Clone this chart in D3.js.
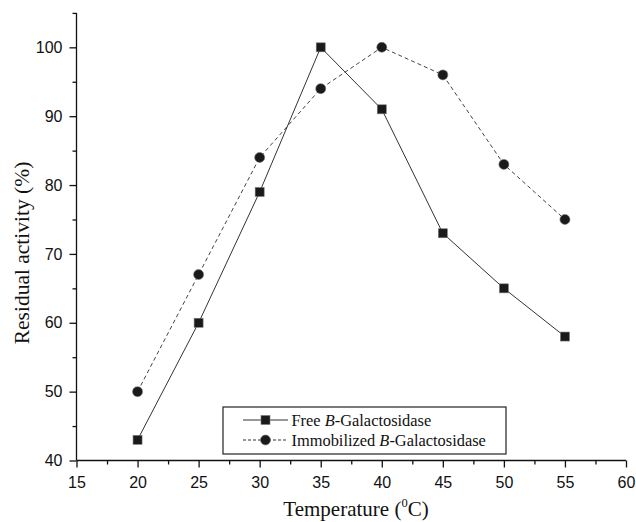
<!DOCTYPE html>
<html>
<head>
<meta charset="utf-8">
<script src="https://cdn.jsdelivr.net/npm/d3@7"></script>
<style>
  html, body { margin: 0; padding: 0; background: #fff; }
  svg { display: block; }
</style>
</head>
<body>
<svg id="chart" width="636" height="522"></svg>
<script>
const temperatures = [20, 25, 30, 35, 40, 45, 50, 55];
const freeActivity = [43, 60, 79, 100, 91, 73, 65, 58];
const immobilizedActivity = [50, 67, 84, 94, 100, 96, 83, 75];
const xTicks = [15, 20, 25, 30, 35, 40, 45, 50, 55, 60];
const xMinorTicks = [17.5, 22.5, 27.5, 32.5, 37.5, 42.5, 47.5, 52.5, 57.5];
const yTicks = [40, 50, 60, 70, 80, 90, 100];
const yMinorTicks = [45, 55, 65, 75, 85, 95, 105];
const seriesNames = ["Free", "Immobilized"];

(function () {
const svg = d3.select("#chart");
const pLeft = 76.5, pRight = 626, pTop = 12.9, pBottom = 460.5;

const x = d3.scaleLinear().domain([15, 60]).range([pLeft, pRight]);
const y = d3.scaleLinear().domain([40, 105]).range([pBottom, pTop]);

// Axes
const xAxis = svg.append("g").attr("transform", `translate(0,${pBottom})`)
  .call(d3.axisBottom(x).tickValues(xTicks).tickSize(7).tickPadding(9).tickFormat(d3.format("d")));
svg.append("g").attr("transform", `translate(0,${pBottom})`)
  .call(d3.axisBottom(x).tickValues(xMinorTicks).tickSize(4).tickFormat(""))
  .call(g => g.select(".domain").remove());
const yAxis = svg.append("g").attr("transform", `translate(${pLeft},0)`)
  .call(d3.axisLeft(y).tickValues(yTicks).tickSize(7).tickPadding(7).tickFormat(d3.format("d")));
svg.append("g").attr("transform", `translate(${pLeft},0)`)
  .call(d3.axisLeft(y).tickValues(yMinorTicks).tickSize(4).tickFormat(""))
  .call(g => g.select(".domain").remove());

svg.selectAll(".domain").attr("stroke", "#111").attr("stroke-width", 1.3);
svg.selectAll(".tick line").attr("stroke", "#111").attr("stroke-width", 1.3);
svg.selectAll(".tick text")
  .attr("font-family", "'Liberation Sans', Arial, sans-serif")
  .attr("font-size", 16).attr("fill", "#111");
xAxis.select(".domain").attr("d", `M${pLeft},0H${pRight}`);
yAxis.select(".domain").attr("d", `M0,${pBottom}V${pTop}`);

// Axis titles
const xt = svg.append("text")
  .attr("x", 356).attr("y", 516)
  .attr("text-anchor", "middle")
  .attr("font-family", "'Liberation Serif', 'Times New Roman', serif")
  .attr("font-size", 21).attr("fill", "#111");
xt.append("tspan").text("Temperature (");
xt.append("tspan").attr("font-size", 12.5).attr("dy", -9).text("0");
xt.append("tspan").attr("dy", 9).text("C)");

svg.append("text")
  .attr("transform", `translate(29,253) rotate(-90)`)
  .attr("text-anchor", "middle")
  .attr("font-family", "'Liberation Serif', 'Times New Roman', serif")
  .attr("font-size", 21.5).attr("fill", "#111")
  .text("Residual activity (%)");

// Lines
const line = d3.line().x(d => x(d[0])).y(d => y(d[1]));
const freeData = temperatures.map((t, i) => [t, freeActivity[i]]);
const immData = temperatures.map((t, i) => [t, immobilizedActivity[i]]);

svg.append("path").datum(immData)
  .attr("d", line).attr("fill", "none")
  .attr("stroke", "#444").attr("stroke-width", 1).attr("stroke-dasharray", "4,3");
svg.append("path").datum(freeData)
  .attr("d", line).attr("fill", "none")
  .attr("stroke", "#333").attr("stroke-width", 1);

// Markers
const sq = 9;
svg.append("g").selectAll("rect").data(freeData).join("rect")
  .attr("x", d => x(d[0]) - sq / 2).attr("y", d => y(d[1]) - sq / 2)
  .attr("width", sq).attr("height", sq)
  .attr("fill", "#1a1a1a").attr("stroke", "#777").attr("stroke-width", 0.6);
svg.append("g").selectAll("circle").data(immData).join("circle")
  .attr("cx", d => x(d[0])).attr("cy", d => y(d[1])).attr("r", 5)
  .attr("fill", "#1a1a1a").attr("stroke", "#777").attr("stroke-width", 0.6);

// Legend
const lg = svg.append("g");
lg.append("rect").attr("x", 223).attr("y", 407).attr("width", 283).attr("height", 47)
  .attr("fill", "#fff").attr("stroke", "#222").attr("stroke-width", 1.2);
const rows = [
  { name: seriesNames[0], y: 420, dash: null, shape: "square" },
  { name: seriesNames[1], y: 440, dash: "3,2", shape: "circle" }
];
rows.forEach(r => {
  lg.append("line").attr("x1", 243).attr("x2", 288).attr("y1", r.y).attr("y2", r.y)
    .attr("stroke", "#333").attr("stroke-width", 1)
    .attr("stroke-dasharray", r.dash);
  if (r.shape === "square") {
    lg.append("rect").attr("x", 265.5 - sq / 2).attr("y", r.y - sq / 2)
      .attr("width", sq).attr("height", sq).attr("fill", "#1a1a1a").attr("stroke", "#777").attr("stroke-width", 0.6);
  } else {
    lg.append("circle").attr("cx", 265.5).attr("cy", r.y).attr("r", 5)
      .attr("fill", "#1a1a1a").attr("stroke", "#777").attr("stroke-width", 0.6);
  }
  const t = lg.append("text").attr("x", 291.5).attr("y", r.y + 5.5)
    .attr("font-family", "'Liberation Serif', 'Times New Roman', serif")
    .attr("font-size", 16.4).attr("fill", "#111");
  t.append("tspan").text(r.name + " ");
  t.append("tspan").attr("font-style", "italic").text("B");
  t.append("tspan").text("-Galactosidase");
});
})();
</script>
</body>
</html>
